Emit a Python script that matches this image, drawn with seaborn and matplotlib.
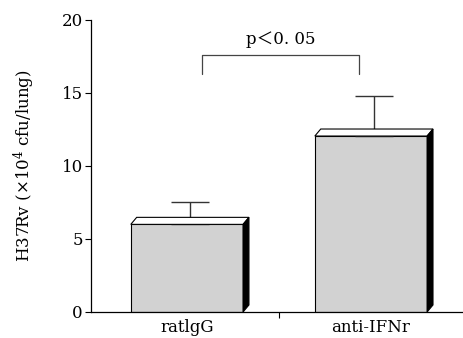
import matplotlib
matplotlib.use('Agg')
import matplotlib.pyplot as plt
from matplotlib.patches import Polygon
import pandas as pd
import seaborn as sns

groups = ['ratlgG', 'anti-IFNr']
means = [6.0, 12.05]
errs = [1.5, 2.75]
p_text = 'p\uff1c0. 05'

data = pd.DataFrame({'group': groups, 'cfu': means})

sns.set_style('ticks')
plt.rcParams['font.family'] = ['DejaVu Serif', 'Noto Sans CJK JP']
plt.rcParams['mathtext.fontset'] = 'dejavuserif'
plt.rcParams['text.color'] = 'black'
plt.rcParams['axes.labelcolor'] = 'black'
plt.rcParams['xtick.color'] = 'black'
plt.rcParams['ytick.color'] = 'black'
plt.rcParams['axes.edgecolor'] = 'black'

fig = plt.figure(figsize=(4.63, 3.38), dpi=100)
ax = fig.add_axes([0.197, 0.077, 0.803, 0.864])

sns.barplot(x='group', y='cfu', data=data, color='#d2d2d2', saturation=1,
            width=0.61, edgecolor='black', linewidth=0.8, errorbar=None, ax=ax,
            zorder=2)
bars = list(ax.patches)

# 3D look: top face and dark right side
dx, dy = 0.032, 0.48
for p in bars:
    x0, w, h = p.get_x(), p.get_width(), p.get_height()
    top = Polygon([(x0, h), (x0 + dx, h + dy), (x0 + w + dx, h + dy), (x0 + w, h)],
                  closed=True, facecolor='white', edgecolor='black', lw=0.8, zorder=4)
    side = Polygon([(x0 + w, 0), (x0 + w, h), (x0 + w + dx, h + dy), (x0 + w + dx, dy)],
                   closed=True, facecolor='black', edgecolor='black', lw=0.8, zorder=4)
    ax.add_patch(top)
    ax.add_patch(side)

# upward error bars
centers = [p.get_x() + p.get_width() / 2 + dx / 2 for p in bars]
ax.errorbar(centers, means, yerr=[[0] * len(errs), errs], fmt='none',
            ecolor='#333333', elinewidth=1.0, capsize=14, capthick=1.0, zorder=3)

# significance bracket
bx0, bx1, by_low, by_top = 0.084, 0.937, 16.3, 17.6
ax.plot([bx0, bx0, bx1, bx1], [by_low, by_top, by_top, by_low], color='#444444', lw=0.9)
ax.text((bx0 + bx1) / 2, by_top + 0.45, p_text, ha='center', va='bottom', fontsize=12)

ax.set_ylim(0, 20)
ax.set_xlim(-0.52, 1.5)
ax.set_yticks([0, 5, 10, 15, 20])
ax.tick_params(axis='y', labelsize=12, length=4, width=0.8, direction='out', pad=2)
ax.tick_params(axis='x', labelsize=12, length=0, pad=5)
ax.set_xticks([0.5], minor=True)
ax.tick_params(axis='x', which='minor', length=4, width=0.8)
ax.set_xlabel('')
ax.set_ylabel('H37Rv (\u00d710$^4$ cfu/lung)', fontsize=12, labelpad=18)
sns.despine(ax=ax)
for s in ['left', 'bottom']:
    ax.spines[s].set_linewidth(0.9)

fig.savefig('out.png', dpi=100)
